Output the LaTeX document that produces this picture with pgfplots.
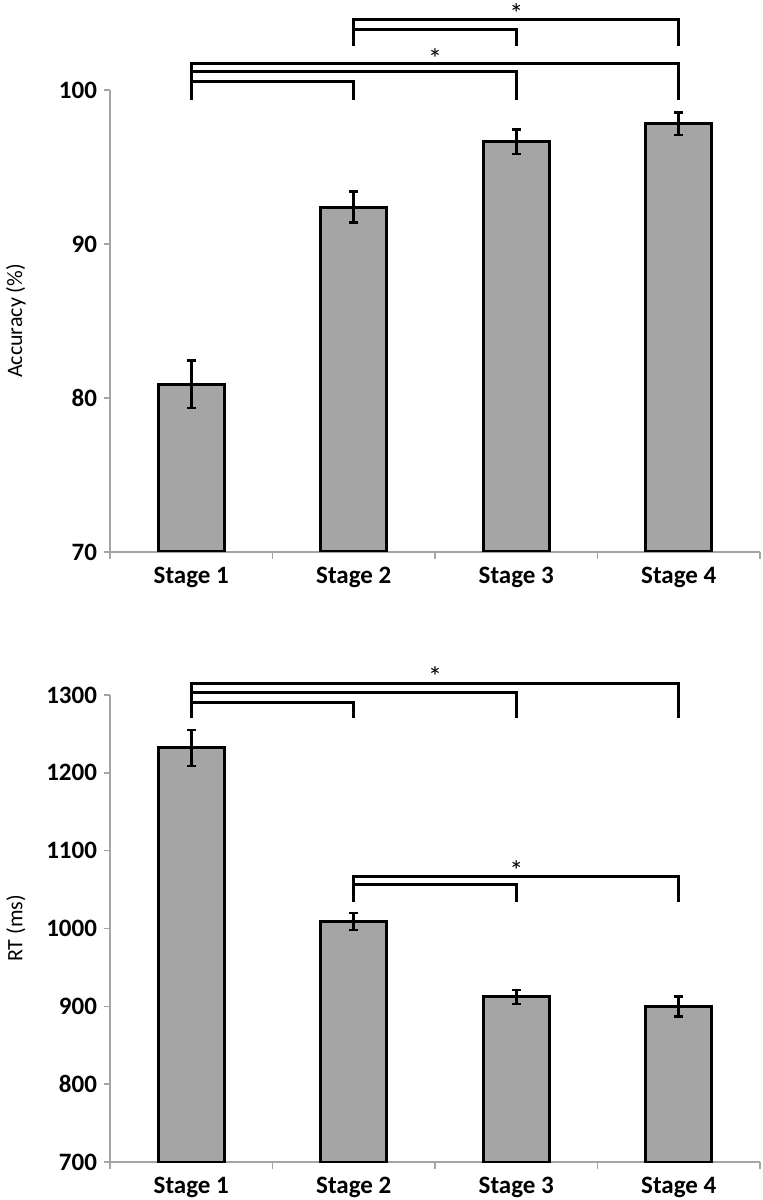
\documentclass[border=0pt]{standalone}
\usepackage{fontspec}
\setmainfont{Carlito}
\usepackage{pgfplots}
\pgfplotsset{compat=1.18}
\definecolor{barg}{RGB}{165,165,165}
\definecolor{axg}{RGB}{165,165,165}

\pgfplotsset{
 mystyle/.style={
  scale only axis, width=325pt, anchor=south west,
  axis x line*=bottom, axis y line*=left,
  xmin=-0.5, xmax=3.5,
  xtick={0,1,2,3}, xticklabels={Stage 1,Stage 2,Stage 3,Stage 4},
  minor xtick={-0.5,0.5,1.5,2.5,3.5},
  major x tick style={draw=none},
  tick align=outside,
  major tick length=3pt, minor tick length=3.5pt,
  axis line style={axg, line width=0.7pt},
  every tick/.style={axg, line width=0.7pt},
  ticklabel style={font=\fontsize{12.5}{14}\selectfont\bfseries, text=black},
  xticklabel style={yshift=-1pt},
  /pgf/number format/assume math mode=true,
  /pgf/number format/1000 sep={},
  every axis y label/.style={at={(axis description cs:-0.145,0.5)}, rotate=90, anchor=center, font=\fontsize{11}{13}\selectfont},
  clip mode=individual,
  ybar=0pt, bar width=33pt,
 },
 eb/.style={draw=black, fill=barg, line width=1.5pt,
  error bars/.cd, y dir=both, y explicit,
  error bar style={line width=1.3pt, black},
  error mark options={rotate=90, mark size=2.2pt, line width=1.3pt, black}},
}
\tikzset{
 br/.style={line width=1.5pt, line join=miter, black},
 st/.style={anchor=north, inner sep=0pt, font=\fontsize{14}{15}\selectfont},
}

\begin{document}
\begin{tikzpicture}
\useasboundingbox (0,0) rectangle (381pt,600pt);
\begin{axis}[mystyle, at={(55pt,324pt)}, height=231pt, ymin=70, ymax=100, ytick={70,80,90,100}, ylabel={Accuracy (\%)}]
\addplot[eb]
  coordinates {(0,80.9) +- (0,1.55) (1,92.4) +- (0,1.0) (2,96.65) +- (0,0.8) (3,97.8) +- (0,0.72)};
\draw[br] (axis cs:0,99.35) |- (axis cs:3,101.75) -- (axis cs:3,99.35);
\draw[br] (axis cs:0,99.35) |- (axis cs:2,101.17) -- (axis cs:2,99.35);
\draw[br] (axis cs:0,99.35) |- (axis cs:1,100.52) -- (axis cs:1,99.35);
\node[st] at (axis cs:1.5,102.73) {*};
\draw[br] (axis cs:1,102.86) |- (axis cs:3,104.6) -- (axis cs:3,102.86);
\draw[br] (axis cs:1,102.86) |- (axis cs:2,103.96) -- (axis cs:2,102.86);
\node[st] at (axis cs:2,105.65) {*};
\end{axis}
\begin{axis}[mystyle, at={(55pt,19pt)}, height=233.5pt, ymin=700, ymax=1300, ytick={700,800,900,1000,1100,1200,1300}, ylabel={RT (ms)}]
\addplot[eb]
  coordinates {(0,1232) +- (0,23) (1,1009) +- (0,11) (2,912) +- (0,9) (3,900) +- (0,13)};
\draw[br] (axis cs:0,1270) |- (axis cs:3,1315.4) -- (axis cs:3,1270);
\draw[br] (axis cs:0,1270) |- (axis cs:2,1302.6) -- (axis cs:2,1270);
\draw[br] (axis cs:0,1270) |- (axis cs:1,1291) -- (axis cs:1,1270);
\node[st] at (axis cs:1.5,1337) {*};
\draw[br] (axis cs:1,1034) |- (axis cs:3,1067) -- (axis cs:3,1034);
\draw[br] (axis cs:1,1034) |- (axis cs:2,1056) -- (axis cs:2,1034);
\node[st] at (axis cs:2,1088) {*};
\end{axis}
\end{tikzpicture}
\end{document}
